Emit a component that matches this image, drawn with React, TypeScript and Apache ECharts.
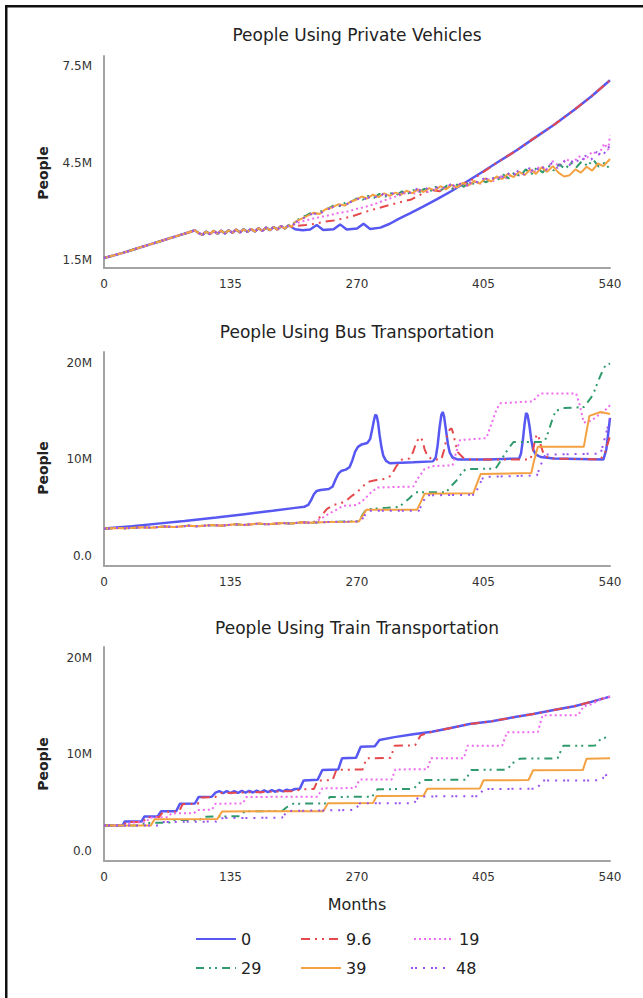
import React, { useEffect, useRef } from "react";
import * as echarts from "echarts";

// ---------- labels ----------
const chartTitles = [
  "People Using Private Vehicles",
  "People Using Bus Transportation",
  "People Using Train Transportation",
];
const scenarioNames = ["0", "9.6", "19", "29", "39", "48"];
const monthInterval = 135;
const privateTicks = [1.5, 4.5, 7.5];
const millionTicks = [0, 10, 20];

// ---------- Private vehicles (millions) ----------
const privateShared = [
  [0, 1.56], [10, 1.64], [20, 1.72], [30, 1.81], [40, 1.9], [50, 1.99], [60, 2.08], [70, 2.17],
  [80, 2.26], [90, 2.35], [97, 2.42], [101, 2.33], [105, 2.28], [109, 2.38], [113, 2.3], [117, 2.4],
  [121, 2.31], [125, 2.41], [129, 2.32], [133, 2.42], [137, 2.34], [141, 2.44], [145, 2.35],
  [149, 2.45], [153, 2.37], [157, 2.46], [161, 2.38], [165, 2.48], [169, 2.4], [173, 2.5],
  [177, 2.42], [181, 2.52], [185, 2.44], [189, 2.55], [193, 2.47], [197, 2.57], [200, 2.52],
];
const private0Tail = [
  [204, 2.45], [212, 2.42], [220, 2.44], [227, 2.58], [234, 2.43], [245, 2.45], [252, 2.6],
  [259, 2.44], [270, 2.47], [277, 2.62], [284, 2.46], [295, 2.5], [305, 2.62], [315, 2.78],
  [327, 2.95], [340, 3.14], [355, 3.37], [371, 3.63], [390, 3.97], [405, 4.24], [420, 4.52],
  [440, 4.88], [458, 5.24], [480, 5.67], [502, 6.14], [520, 6.55], [540, 7.05],
];
const private96Tail = [
  [204, 2.55], [215, 2.58], [225, 2.62], [235, 2.68], [245, 2.72], [255, 2.78], [265, 2.85],
  [275, 2.95], [290, 3.08], [305, 3.2], [318, 3.3], [327, 3.36], [335, 3.48], [342, 3.58],
  [350, 3.66], [358, 3.62], [365, 3.74], [372, 3.7], [380, 3.84], [388, 3.9], [395, 4.02],
  [405, 4.22], [420, 4.52], [440, 4.88], [458, 5.24], [480, 5.67], [502, 6.14], [520, 6.55],
  [540, 7.05],
];
const private19Tail = [
  [204, 2.62], [212, 2.7], [220, 2.76], [230, 2.82], [240, 2.88], [250, 2.95], [260, 3.0],
  [270, 3.08], [280, 3.15], [290, 3.24], [300, 3.35], [310, 3.45], [318, 3.52], [325, 3.6],
  [332, 3.55], [339, 3.68], [346, 3.6], [353, 3.74], [360, 3.66], [367, 3.8], [374, 3.72],
  [381, 3.86], [388, 3.78], [395, 3.92], [402, 3.86], [409, 4.0], [416, 3.94], [423, 4.1],
  [430, 4.02], [437, 4.18], [444, 4.1], [451, 4.28], [458, 4.18], [465, 4.4], [472, 4.3],
  [479, 4.55], [486, 4.4], [493, 4.62], [500, 4.5], [507, 4.7], [514, 4.6], [521, 4.85],
  [528, 4.75], [534, 5.1], [538, 4.9], [540, 5.35],
];
const private29Tail = [
  [204, 2.7], [210, 2.8], [216, 2.88], [222, 2.98], [228, 2.92], [234, 3.06], [240, 3.1],
  [246, 3.2], [252, 3.16], [258, 3.28], [264, 3.3], [270, 3.4], [276, 3.36], [282, 3.48],
  [288, 3.42], [294, 3.54], [300, 3.46], [306, 3.56], [312, 3.5], [318, 3.62], [324, 3.54],
  [330, 3.66], [336, 3.58], [342, 3.7], [348, 3.62], [354, 3.76], [360, 3.66], [366, 3.8],
  [372, 3.7], [378, 3.86], [384, 3.76], [390, 3.92], [396, 3.82], [402, 3.98], [408, 3.9],
  [414, 4.06], [420, 3.96], [426, 4.14], [432, 4.02], [438, 4.2], [444, 4.08], [450, 4.3],
  [456, 4.14], [462, 4.36], [468, 4.2], [474, 4.42], [480, 4.26], [486, 4.46], [492, 4.3],
  [498, 4.5], [504, 4.36], [510, 4.55], [516, 4.4], [522, 4.6], [528, 4.38], [534, 4.5],
  [540, 4.3],
];
const private39Tail = [
  [204, 2.68], [211, 2.78], [217, 2.86], [224, 2.96], [230, 2.92], [236, 3.06], [243, 3.12],
  [250, 3.22], [257, 3.18], [263, 3.3], [269, 3.36], [275, 3.46], [281, 3.4], [287, 3.52],
  [293, 3.44], [299, 3.56], [305, 3.48], [311, 3.58], [317, 3.52], [323, 3.64], [329, 3.56],
  [335, 3.68], [341, 3.6], [347, 3.72], [353, 3.64], [359, 3.78], [365, 3.68], [371, 3.82],
  [377, 3.74], [383, 3.88], [389, 3.8], [395, 3.94], [401, 3.86], [407, 4.02], [413, 3.92],
  [419, 4.08], [425, 4.0], [431, 4.16], [437, 4.06], [443, 4.22], [449, 4.12], [455, 4.3],
  [461, 4.16], [467, 4.36], [473, 4.22], [479, 4.4], [485, 4.2], [491, 4.08], [497, 4.12],
  [503, 4.3], [509, 4.2], [515, 4.38], [521, 4.26], [527, 4.48], [533, 4.4], [540, 4.62],
];
const private48Tail = [
  [204, 2.66], [210, 2.76], [217, 2.84], [223, 2.94], [229, 2.9], [236, 3.04], [242, 3.1],
  [249, 3.2], [256, 3.16], [262, 3.28], [268, 3.34], [274, 3.44], [280, 3.38], [286, 3.5],
  [292, 3.42], [298, 3.54], [304, 3.46], [310, 3.6], [316, 3.52], [322, 3.64], [328, 3.56],
  [334, 3.7], [340, 3.62], [346, 3.74], [352, 3.66], [358, 3.8], [364, 3.7], [370, 3.84],
  [376, 3.76], [382, 3.9], [388, 3.82], [394, 3.96], [400, 3.88], [406, 4.04], [412, 3.94],
  [418, 4.1], [424, 4.02], [430, 4.2], [436, 4.08], [442, 4.26], [448, 4.14], [454, 4.34],
  [460, 4.2], [466, 4.42], [472, 4.28], [478, 4.5], [484, 4.34], [490, 4.58], [496, 4.4],
  [502, 4.64], [508, 4.5], [514, 4.72], [520, 4.6], [526, 4.84], [532, 4.7], [538, 5.0],
  [540, 4.95],
];

// ---------- Bus (millions) ----------
const busShared = [
  [0, 2.86], [15, 2.92], [25, 2.9], [40, 3.0], [50, 2.96], [65, 3.08], [75, 3.02], [90, 3.16],
  [100, 3.1], [115, 3.22], [125, 3.16], [140, 3.3], [150, 3.24], [165, 3.38], [175, 3.3],
  [190, 3.44], [200, 3.38], [212, 3.52], [220, 3.46],
];
const bus0 = [
  [0, 2.86], [30, 3.1], [60, 3.4], [86, 3.64], [120, 4.0], [150, 4.35], [180, 4.7], [204, 5.0],
  [214, 5.12], [218, 5.3], [221, 5.8], [224, 6.4], [227, 6.75], [231, 6.85], [240, 6.95],
  [244, 7.2], [247, 7.9], [250, 8.5], [253, 8.8], [258, 8.95], [262, 9.2], [265, 9.9],
  [268, 10.8], [271, 11.3], [275, 11.55], [281, 11.7], [284, 12.1], [286, 13.0], [288, 14.0],
  [289.5, 14.6], [291, 14.5], [292.5, 13.8], [294, 12.6], [296, 11.3], [298, 10.4],
  [301, 9.85], [305, 9.6], [330, 9.7], [351, 9.8], [354, 10.2], [356, 11.4], [358, 13.2],
  [360, 14.6], [361.5, 14.9], [363, 14.4], [365, 13.0], [367, 11.6], [369, 10.7], [372, 10.2],
  [377, 10.0], [410, 10.0], [443, 10.1], [445, 10.6], [447, 12.0], [449, 13.8], [450.5, 14.8],
  [452, 14.6], [454, 13.5], [456, 12.0], [458, 11.0], [461, 10.5], [466, 10.25], [480, 10.1],
  [533, 10.0], [536, 11.0], [538, 12.6], [540, 14.3],
];
const bus96Tail = [
  [226, 3.6], [232, 4.2], [238, 4.9], [245, 5.3], [252, 5.45], [258, 5.7], [264, 6.2],
  [270, 6.6], [276, 7.2], [282, 7.7], [292, 7.9], [300, 8.0], [306, 8.3], [312, 9.3],
  [318, 10.0], [326, 10.1], [330, 10.8], [333, 11.7], [336, 12.2], [338, 12.3], [340, 11.9],
  [342, 11.1], [345, 10.4], [350, 10.0], [360, 10.0], [363, 11.0], [366, 12.4], [369, 13.1],
  [371, 13.2], [373, 12.6], [375, 11.6], [378, 10.7], [383, 10.2], [390, 10.0], [455, 10.0],
  [458, 11.0], [460, 12.0], [462, 12.6], [464, 12.3], [466, 11.5], [469, 10.6], [475, 10.1],
  [530, 10.0], [535, 10.8], [540, 12.4],
];
const bus19Tail = [
  [225, 3.55], [232, 3.9], [240, 4.4], [248, 4.8], [255, 5.2], [270, 5.3], [278, 5.9],
  [285, 6.6], [292, 7.1], [330, 7.2], [336, 8.2], [342, 9.0], [350, 9.3], [372, 9.4],
  [376, 10.8], [380, 12.0], [408, 12.2], [414, 13.8], [419, 15.2], [423, 15.8], [458, 16.0],
  [462, 16.5], [466, 16.8], [504, 16.8], [508, 15.5], [512, 13.8], [520, 14.0], [528, 14.6],
  [534, 15.0], [540, 15.6],
];
const bus29Tail = [
  [240, 3.55], [260, 3.6], [272, 3.62], [276, 4.3], [280, 4.85], [300, 5.0], [315, 5.1],
  [320, 5.5], [326, 6.0], [332, 6.6], [365, 6.6], [370, 7.2], [376, 7.8], [381, 8.5],
  [386, 9.0], [418, 9.05], [423, 9.8], [428, 10.6], [433, 11.3], [437, 11.8], [470, 11.8],
  [474, 12.8], [478, 14.0], [482, 15.0], [490, 15.3], [512, 15.4], [516, 15.9], [520, 16.4],
  [524, 17.2], [527, 18.0], [531, 18.9], [535, 19.7], [540, 19.9],
];
const bus39Tail = [
  [240, 3.55], [260, 3.58], [272, 3.6], [276, 4.2], [280, 4.8], [334, 4.8], [338, 5.6],
  [342, 6.45], [394, 6.5], [398, 7.5], [402, 8.5], [456, 8.6], [459, 9.9], [463, 11.3],
  [512, 11.3], [515, 12.9], [518, 14.5], [530, 14.9], [540, 14.7],
];
const bus48Tail = [
  [240, 3.55], [260, 3.58], [274, 3.6], [278, 4.2], [282, 4.7], [336, 4.7], [340, 5.5],
  [344, 6.3], [396, 6.35], [400, 7.3], [405, 8.2], [462, 8.35], [466, 9.4], [471, 10.5],
  [530, 10.6], [535, 12.4], [540, 14.2],
];

// ---------- Train (millions) ----------
const train0 = [
  [0, 2.65], [20, 2.65], [22, 3.05], [40, 3.05], [43, 3.56], [57, 3.56], [61, 4.12], [77, 4.12],
  [81, 4.9], [97, 4.92], [101, 5.6], [115, 5.62], [119, 6.05], [123, 6.2], [127, 6.0],
  [131, 6.2], [135, 6.0], [139, 6.2], [143, 6.02], [147, 6.22], [151, 6.04], [155, 6.24],
  [159, 6.06], [163, 6.26], [167, 6.08], [171, 6.28], [175, 6.1], [179, 6.3], [183, 6.14],
  [187, 6.32], [191, 6.18], [195, 6.36], [199, 6.24], [204, 6.42], [209, 6.46], [213, 7.3],
  [228, 7.38], [233, 8.4], [250, 8.45], [254, 9.6], [269, 9.65], [274, 10.8], [289, 10.85],
  [294, 11.5], [310, 11.8], [330, 12.1], [350, 12.35], [370, 12.75], [390, 13.15], [414, 13.45],
  [440, 13.9], [458, 14.2], [480, 14.6], [502, 15.0], [520, 15.45], [540, 16.0],
];
const train96 = [
  [0, 2.65], [21, 2.65], [24, 3.0], [42, 3.0], [45, 3.5], [59, 3.52], [63, 4.05], [80, 4.08],
  [84, 4.85], [100, 4.88], [104, 5.55], [119, 5.6], [125, 6.0], [200, 6.2], [214, 6.4],
  [224, 6.42], [228, 7.3], [244, 7.35], [248, 8.4], [276, 8.45], [280, 9.6], [306, 9.65],
  [310, 10.9], [332, 10.95], [338, 12.0], [350, 12.35], [370, 12.75], [390, 13.15],
  [414, 13.45], [440, 13.9], [458, 14.2], [480, 14.6], [502, 15.0], [520, 15.45], [540, 16.0],
];
const train19 = [
  [0, 2.65], [25, 2.65], [28, 2.95], [45, 2.98], [49, 3.45], [68, 3.5], [72, 3.9], [96, 3.92],
  [100, 4.25], [115, 4.27], [119, 4.9], [148, 4.92], [152, 5.6], [228, 5.62], [233, 6.5],
  [268, 6.52], [273, 7.4], [307, 7.42], [311, 8.45], [345, 8.47], [349, 9.6], [384, 9.62],
  [388, 10.9], [425, 10.92], [430, 12.3], [463, 12.32], [468, 14.05], [506, 14.08], [512, 15.0],
  [520, 15.2], [530, 15.7], [540, 16.0],
];
const train29 = [
  [0, 2.65], [40, 2.65], [44, 2.9], [70, 2.95], [74, 3.2], [102, 3.22], [106, 3.55], [145, 3.6],
  [150, 4.1], [190, 4.15], [196, 4.6], [202, 4.9], [236, 4.92], [241, 5.6], [286, 5.62],
  [292, 6.4], [330, 6.42], [335, 6.9], [340, 7.36], [386, 7.38], [392, 8.4], [430, 8.42],
  [436, 9.1], [444, 9.57], [484, 9.6], [490, 10.9], [524, 10.92], [530, 11.6], [540, 11.9],
];
const train39 = [
  [0, 2.65], [50, 2.65], [54, 3.3], [121, 3.32], [126, 4.1], [234, 4.12], [239, 4.94],
  [287, 4.96], [291, 5.7], [341, 5.72], [345, 6.45], [401, 6.47], [405, 7.33], [453, 7.35],
  [458, 8.36], [511, 8.38], [515, 9.57], [540, 9.6],
];
const train48 = [
  [0, 2.65], [58, 2.65], [62, 3.0], [120, 3.05], [124, 3.4], [190, 3.45], [196, 4.15],
  [268, 4.25], [273, 4.94], [331, 4.96], [336, 5.65], [400, 5.68], [405, 6.42], [462, 6.45],
  [468, 7.3], [530, 7.32], [535, 7.8], [540, 8.1],
];

// ---------- styling ----------
const FONT = "DejaVu Sans";
const colors = ["#5757f2", "#e5494c", "#ee6aee", "#2f9a6c", "#f4a142", "#9a52ee"];
const widths = [2.5, 2, 2, 2, 2, 2];
const dashes: any[] = ["solid", [9, 5, 2, 5, 2, 5], [2, 3], [8, 5, 2, 4, 2, 5], "solid", [2, 2, 2, 6, 2, 6]];

const gridBoxes = [
  { top: 56, height: 212, min: 1.253, max: 7.8 },
  { top: 352, height: 214, min: -1.0, max: 21.09 },
  { top: 647, height: 214, min: -1.04, max: 21.14 },
];

export default function App() {
  const ref = useRef<HTMLDivElement>(null);

  useEffect(() => {
    if (!ref.current) return;
    const chart = echarts.init(ref.current, null, { renderer: "svg" });

    const chartData = [
      [
        privateShared.concat(private0Tail),
        privateShared.concat(private96Tail),
        privateShared.concat(private19Tail),
        privateShared.concat(private29Tail),
        privateShared.concat(private39Tail),
        privateShared.concat(private48Tail),
      ],
      [
        bus0,
        busShared.concat(bus96Tail),
        busShared.concat(bus19Tail),
        busShared.concat(bus29Tail),
        busShared.concat(bus39Tail),
        busShared.concat(bus48Tail),
      ],
      [train0, train96, train19, train29, train39, train48],
    ];

    const series: any[] = [];
    chartData.forEach((set, gi) => {
      set.forEach((d, si) => {
        series.push({
          type: "line",
          name: scenarioNames[si],
          xAxisIndex: gi,
          yAxisIndex: gi,
          data: d,
          symbol: "none",
          showSymbol: false,
          smooth: false,
          lineStyle: { color: colors[si], width: widths[si], type: dashes[si] },
          itemStyle: { color: colors[si] },
          emphasis: { disabled: true },
        });
      });
    });

    const legendPos = [
      { left: 195, top: 931 },
      { left: 300, top: 931 },
      { left: 413, top: 931 },
      { left: 195, top: 960 },
      { left: 300, top: 960 },
      { left: 410, top: 960 },
    ];

    const option: any = {
      animation: false,
      backgroundColor: "#ffffff",
      title: chartTitles.map((t, i) => ({
        text: t,
        left: 357,
        top: [26, 323, 619][i],
        textAlign: "center",
        padding: 0,
        textStyle: { fontFamily: FONT, fontSize: 17, fontWeight: "normal", color: "#222" },
      })),
      grid: gridBoxes.map((g) => ({ left: 104, top: g.top, width: 506, height: g.height })),
      xAxis: gridBoxes.map((_, i) => ({
        type: "value",
        gridIndex: i,
        min: 0,
        max: 540,
        interval: monthInterval,
        axisLine: { show: true, onZero: false, lineStyle: { color: "#a3a3a3", width: 2 } },
        axisTick: { show: false },
        splitLine: { show: false },
        axisLabel: { fontFamily: FONT, fontSize: 12, color: "#333", margin: 10 },
      })),
      yAxis: gridBoxes.map((g, i) => ({
        type: "value",
        gridIndex: i,
        min: g.min,
        max: g.max,
        axisLine: { show: true, onZero: false, lineStyle: { color: "#a3a3a3", width: 2 } },
        axisTick: { show: false },
        splitLine: { show: false },
        axisLabel: {
          fontFamily: FONT,
          fontSize: 12,
          color: "#333",
          margin: 12,
          customValues: i === 0 ? privateTicks : millionTicks,
          formatter: (v: number) =>
            i === 0 ? v.toFixed(1) + "M" : v === 0 ? "0.0" : Math.round(v) + "M",
        },
      })),
      legend: scenarioNames.map((n, i) => ({
        data: [n],
        left: legendPos[i].left,
        top: legendPos[i].top,
        padding: 0,
        itemWidth: 40,
        itemHeight: 14,
        selectedMode: false,
        itemStyle: { opacity: 0 },
        textStyle: { fontFamily: FONT, fontSize: 16, color: "#222" },
      })),
      graphic: [
        { type: "rect", shape: { x: 5, y: 5, width: 638, height: 2.5 }, style: { fill: "#111" } },
        { type: "rect", shape: { x: 5, y: 5, width: 2.5, height: 993 }, style: { fill: "#111" } },
        ...[173, 468, 764].map((cy) => ({
          type: "text",
          x: 43,
          y: cy,
          rotation: Math.PI / 2,
          style: {
            text: "People",
            fontFamily: FONT,
            fontSize: 14,
            fontWeight: "bold",
            fill: "#222",
            align: "center",
            verticalAlign: "middle",
            textAlign: "center",
            textVerticalAlign: "middle",
          },
        })),
        {
          type: "text",
          x: 357,
          y: 904,
          style: {
            text: "Months",
            fontFamily: FONT,
            fontSize: 16,
            fill: "#222",
            align: "center",
            verticalAlign: "middle",
            textAlign: "center",
            textVerticalAlign: "middle",
          },
        },
      ],
      series,
    };

    chart.setOption(option);
    return () => chart.dispose();
  }, []);

  return (
    <div
      ref={ref}
      style={{ position: "absolute", left: 0, top: 0, width: 643, height: 998, background: "#fff" }}
    />
  );
}
